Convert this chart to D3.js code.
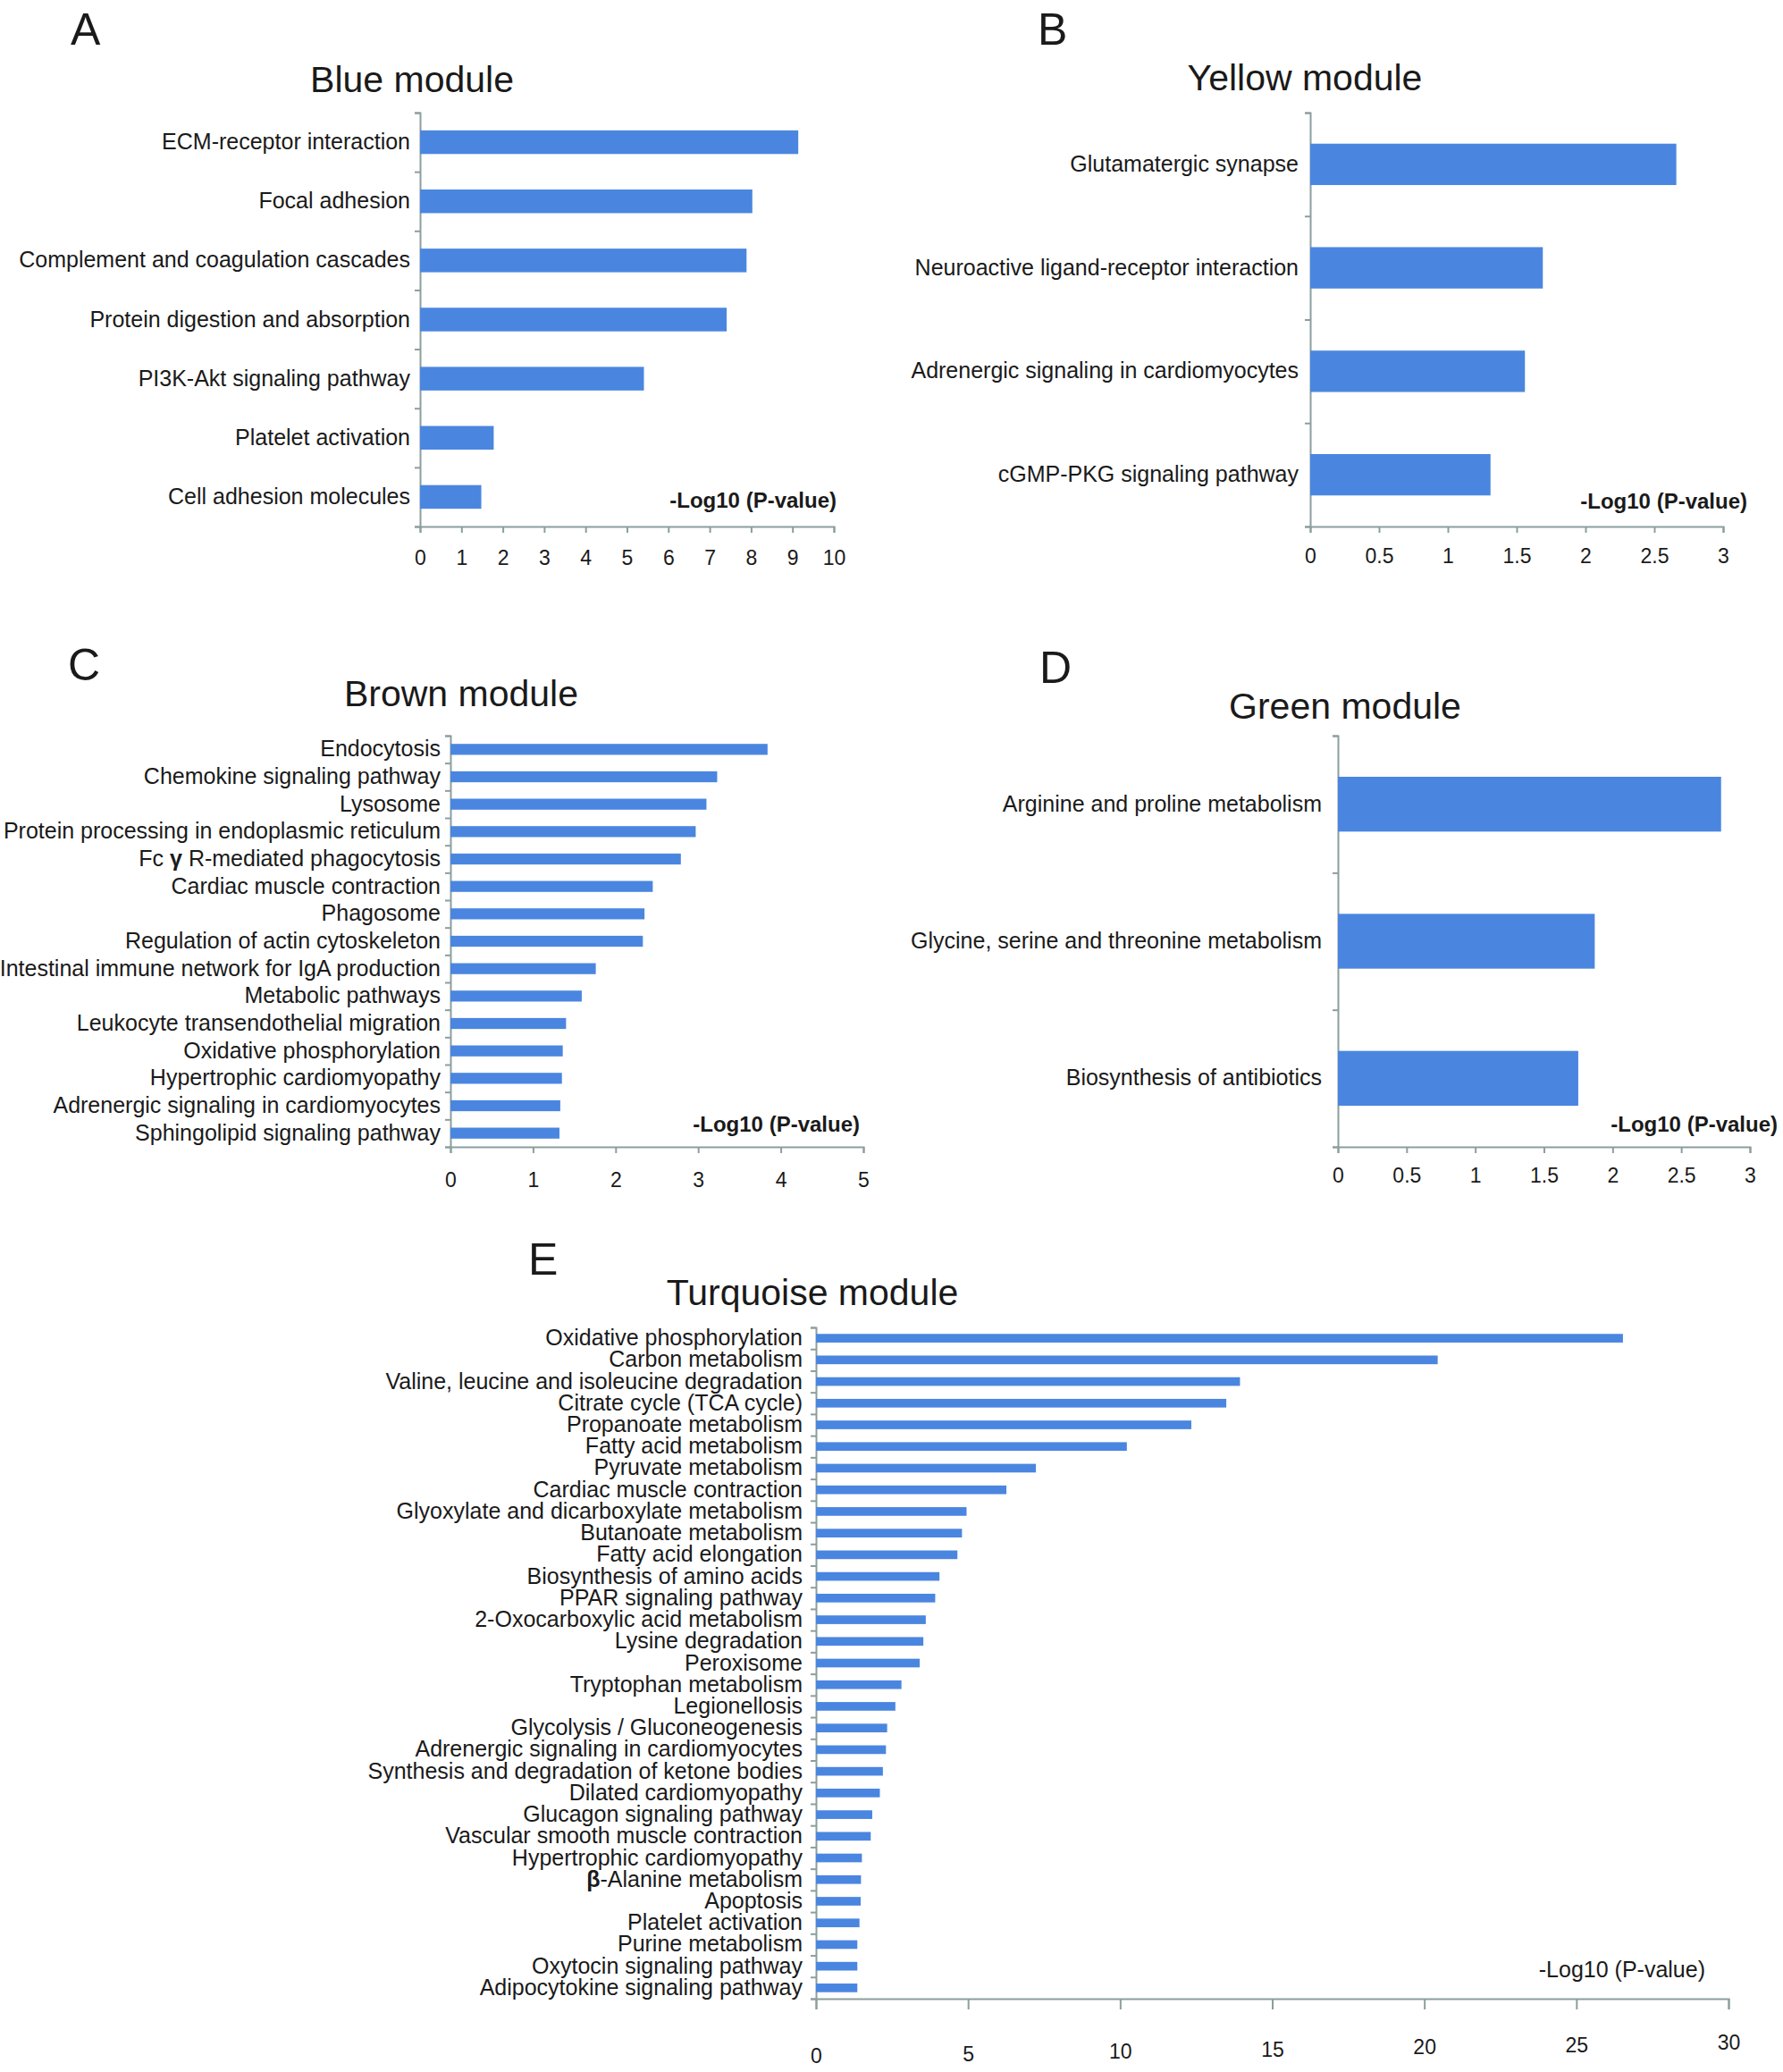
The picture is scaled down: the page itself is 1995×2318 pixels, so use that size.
<!DOCTYPE html>
<html>
<head>
<meta charset="utf-8">
<script src="https://cdn.jsdelivr.net/npm/d3@7"></script>
<style>
  body { margin: 0; background: #fff; }
  text { font-family: "Liberation Sans", Arial, sans-serif; fill: #1a1a1a; }
</style>
</head>
<body>
<div id="chart"></div>
<script>
// values (-log10 p-value per KEGG term)
const blueTerms = ['ECM-receptor interaction', 'Focal adhesion', 'Complement and coagulation cascades',
  'Protein digestion and absorption', 'PI3K-Akt signaling pathway', 'Platelet activation', 'Cell adhesion molecules']
const blueValues = [9.14, 8.03, 7.89, 7.41, 5.41, 1.78, 1.48]
const blueTicks = [0, 1, 2, 3, 4, 5, 6, 7, 8, 9, 10]

const yellowTerms = ['Glutamatergic synapse', 'Neuroactive ligand-receptor interaction',
  'Adrenergic signaling in cardiomyocytes', 'cGMP-PKG signaling pathway']
const yellowValues = [2.66, 1.69, 1.56, 1.31]
const yellowTicks = [0, 0.5, 1, 1.5, 2, 2.5, 3]

const brownTerms = ['Endocytosis', 'Chemokine signaling pathway', 'Lysosome',
  'Protein processing in endoplasmic reticulum', 'Fc γ R-mediated phagocytosis', 'Cardiac muscle contraction',
  'Phagosome', 'Regulation of actin cytoskeleton', 'Intestinal immune network for IgA production',
  'Metabolic pathways', 'Leukocyte transendothelial migration', 'Oxidative phosphorylation',
  'Hypertrophic cardiomyopathy', 'Adrenergic signaling in cardiomyocytes', 'Sphingolipid signaling pathway']
const brownValues = [3.84, 3.23, 3.10, 2.97, 2.79, 2.45, 2.35, 2.33, 1.76, 1.59, 1.40, 1.36, 1.35, 1.33, 1.32]
const brownTicks = [0, 1, 2, 3, 4, 5]

const greenTerms = ['Arginine and proline metabolism', 'Glycine, serine and threonine metabolism',
  'Biosynthesis of antibiotics']
const greenValues = [2.79, 1.87, 1.75]
const greenTicks = [0, 0.5, 1, 1.5, 2, 2.5, 3]

const turquoiseTerms = ['Oxidative phosphorylation', 'Carbon metabolism', 'Valine, leucine and isoleucine degradation',
  'Citrate cycle (TCA cycle)', 'Propanoate metabolism', 'Fatty acid metabolism', 'Pyruvate metabolism',
  'Cardiac muscle contraction', 'Glyoxylate and dicarboxylate metabolism', 'Butanoate metabolism',
  'Fatty acid elongation', 'Biosynthesis of amino acids', 'PPAR signaling pathway',
  '2-Oxocarboxylic acid metabolism', 'Lysine degradation', 'Peroxisome', 'Tryptophan metabolism',
  'Legionellosis', 'Glycolysis / Gluconeogenesis', 'Adrenergic signaling in cardiomyocytes',
  'Synthesis and degradation of ketone bodies', 'Dilated cardiomyopathy', 'Glucagon signaling pathway',
  'Vascular smooth muscle contraction', 'Hypertrophic cardiomyopathy', 'β-Alanine metabolism', 'Apoptosis',
  'Platelet activation', 'Purine metabolism', 'Oxytocin signaling pathway', 'Adipocytokine signaling pathway']
const turquoiseValues = [26.53, 20.44, 13.94, 13.49, 12.34, 10.22, 7.23, 6.26, 4.95, 4.80, 4.65, 4.06, 3.92,
  3.61, 3.53, 3.41, 2.81, 2.61, 2.34, 2.30, 2.20, 2.10, 1.85, 1.80, 1.51, 1.48, 1.47, 1.43, 1.36, 1.36, 1.36]
const turquoiseTicks = [0, 5, 10, 15, 20, 25, 30]

const WIDTH = 1995
const HEIGHT = 2318
const BAR = '#4a86e0'
const AXIS = '#8c9e9e'

// layout of the five panels (pixels)
const panels = [
  { letter: 'A', title: 'Blue module', terms: blueTerms, values: blueValues, ticks: blueTicks,
    x0: 470, x1: 933, top: 126, bottom: 589, labelPad: 11, labelSize: 25, tickPad: 20, tickLen: 7, lift: 0,
    letterX: 79, letterY: 50, titleX: 461, titleY: 103, noteX: 936, noteY: 568, noteBold: true },
  { letter: 'B', title: 'Yellow module', terms: yellowTerms, values: yellowValues, ticks: yellowTicks,
    x0: 1466, x1: 1928, top: 126, bottom: 589, labelPad: 13, labelSize: 25, tickPad: 18, tickLen: 7, lift: 0,
    letterX: 1161, letterY: 50, titleX: 1460, titleY: 101, noteX: 1955, noteY: 569, noteBold: true },
  { letter: 'C', title: 'Brown module', terms: brownTerms, values: brownValues, ticks: brownTicks,
    x0: 504, x1: 966, top: 823, bottom: 1283, labelPad: 11, labelSize: 25, tickPad: 22, tickLen: 7, lift: 0,
    letterX: 76, letterY: 761, titleX: 516, titleY: 790, noteX: 962, noteY: 1266, noteBold: true },
  { letter: 'D', title: 'Green module', terms: greenTerms, values: greenValues, ticks: greenTicks,
    x0: 1497, x1: 1958, top: 823, bottom: 1283, labelPad: 18, labelSize: 25, tickPad: 17, tickLen: 7, lift: 0,
    letterX: 1163, letterY: 764, titleX: 1505, titleY: 804, noteX: 1989, noteY: 1266, noteBold: true },
  { letter: 'E', title: 'Turquoise module', terms: turquoiseTerms, values: turquoiseValues, ticks: turquoiseTicks,
    x0: 913, x1: 1934, top: 1485, bottom: 2236, labelPad: 15, labelSize: 25, tickPad: 44, tickLen: 12, lift: 0.5,
    letterX: 591, letterY: 1426, titleX: 909, titleY: 1460, noteX: 1908, noteY: 2212, noteBold: false }
]

const svg = d3.select('#chart')
  .append('svg')
  .attr('width', WIDTH)
  .attr('height', HEIGHT)

svg.append('rect').attr('width', WIDTH).attr('height', HEIGHT).attr('fill', '#fff')

// make greek letters bold like in the figure
function boldGreek(sel) {
  sel.each(function (d) {
    if (!/[γβ]/.test(d)) return
    const t = d3.select(this).text(null)
    d.split(/([γβ])/).forEach(part => {
      if (!part) return
      t.append('tspan').attr('font-weight', /[γβ]/.test(part) ? 'bold' : null).text(part)
    })
  })
}

panels.forEach(p => {
  const g = svg.append('g')

  const x = d3.scaleLinear()
    .domain([0, d3.max(p.ticks)])
    .range([p.x0, p.x1])

  const y = d3.scaleBand()
    .domain(p.terms)
    .range([p.top, p.bottom])
    .paddingInner(0.6)
    .paddingOuter(0.3)

  // ticks between categories, excel style
  const yEdge = d3.scaleLinear().domain([0, p.terms.length]).range([p.top, p.bottom])
  const yEdgeAxis = g.append('g')
    .attr('transform', 'translate(' + p.x0 + ',0)')
    .call(d3.axisLeft(yEdge).tickValues(d3.range(p.terms.length + 1)).tickSize(6).tickFormat(''))
  yEdgeAxis.selectAll('path, line').attr('stroke', AXIS).attr('stroke-width', 2)

  // category names
  const yAxis = g.append('g')
    .attr('transform', 'translate(' + p.x0 + ',0)')
    .call(d3.axisLeft(y).tickSize(0).tickPadding(p.labelPad))
  yAxis.select('.domain').remove()
  yAxis.selectAll('text')
    .attr('font-size', p.labelSize)
    .style('font-family', '"Liberation Sans", Arial, sans-serif')
    .attr('fill', '#1a1a1a')
    .call(boldGreek)

  // value axis
  const xAxis = g.append('g')
    .attr('transform', 'translate(0,' + p.bottom + ')')
    .call(d3.axisBottom(x).tickValues(p.ticks).tickSize(p.tickLen).tickSizeOuter(p.tickLen)
      .tickPadding(p.tickPad).tickFormat(d3.format('')))
  xAxis.selectAll('path, line').attr('stroke', AXIS).attr('stroke-width', 2)
  xAxis.selectAll('text')
    .attr('font-size', 23)
    .style('font-family', '"Liberation Sans", Arial, sans-serif')
    .attr('fill', '#1a1a1a')
    .attr('transform', d => 'translate(0,' + (-d * p.lift) + ')')

  // bars
  g.selectAll('rect.bar')
    .data(p.terms.map((t, i) => ({ term: t, value: p.values[i] })))
    .enter().append('rect')
    .attr('class', 'bar')
    .attr('x', x(0))
    .attr('y', d => y(d.term))
    .attr('width', d => x(d.value) - x(0))
    .attr('height', y.bandwidth())
    .attr('fill', BAR)

  // titles and labels
  g.append('text')
    .attr('x', p.letterX)
    .attr('y', p.letterY)
    .attr('font-size', 50)
    .text(p.letter)

  g.append('text')
    .attr('x', p.titleX)
    .attr('y', p.titleY)
    .attr('text-anchor', 'middle')
    .attr('font-size', 41)
    .text(p.title)

  g.append('text')
    .attr('x', p.noteX)
    .attr('y', p.noteY)
    .attr('text-anchor', 'end')
    .attr('font-size', p.noteBold ? 24 : 25)
    .attr('font-weight', p.noteBold ? 'bold' : 'normal')
    .text('-Log10 (P-value)')
})
</script>
</body>
</html>
